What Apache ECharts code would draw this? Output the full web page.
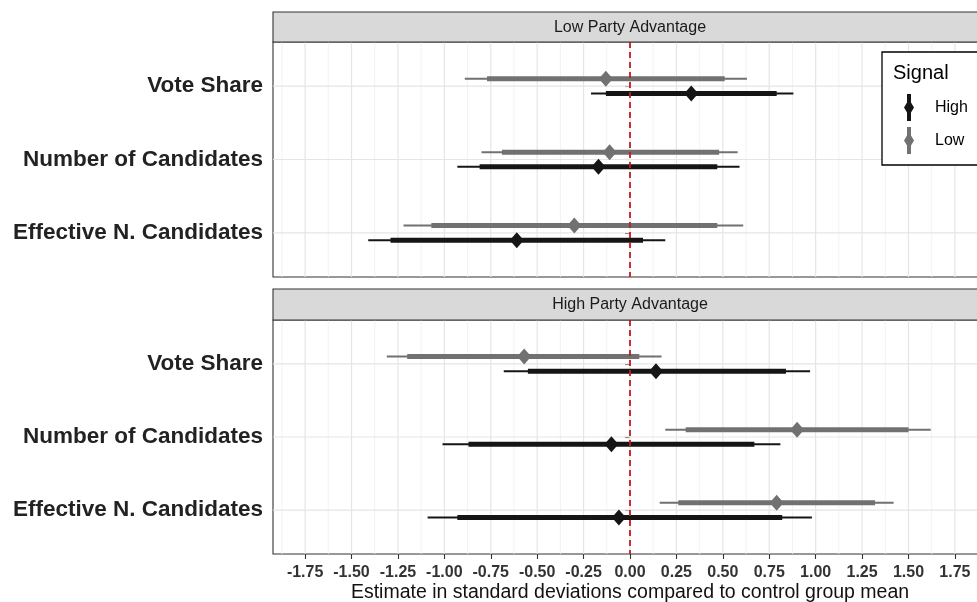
<!DOCTYPE html>
<html>
<head>
<meta charset="utf-8">
<script src="https://cdn.jsdelivr.net/npm/echarts@6/dist/echarts.min.js"></script>
<style>
html,body{margin:0;padding:0;background:#fff;}
#chart{width:977px;height:602px;}
</style>
</head>
<body>
<div id="chart"></div>
<script>
// ---------- data ----------
const categories = ['Vote Share', 'Number of Candidates', 'Effective N. Candidates'];
const panels = ['Low Party Advantage', 'High Party Advantage'];
const signals = ['High', 'Low'];
const xTicks = [-1.75, -1.5, -1.25, -1, -0.75, -0.5, -0.25, 0, 0.25, 0.5, 0.75, 1, 1.25, 1.5, 1.75];
const xMinorBreaks = [-1.875, -1.625, -1.375, -1.125, -0.875, -0.625, -0.375, -0.125, 0.125, 0.375, 0.625, 0.875, 1.125, 1.375, 1.625, 1.875];
const referenceValue = [0];

// each row per category: [estimate, thick low, thick high, thin low, thin high]
const lowAdvHigh = [
  [0.33, -0.13, 0.79, -0.21, 0.88],
  [-0.17, -0.81, 0.47, -0.93, 0.59],
  [-0.61, -1.29, 0.07, -1.41, 0.19]
];
const lowAdvLow = [
  [-0.13, -0.77, 0.51, -0.89, 0.63],
  [-0.11, -0.69, 0.48, -0.80, 0.58],
  [-0.30, -1.07, 0.47, -1.22, 0.61]
];
const highAdvHigh = [
  [0.14, -0.55, 0.84, -0.68, 0.97],
  [-0.10, -0.87, 0.67, -1.01, 0.81],
  [-0.06, -0.93, 0.82, -1.09, 0.98]
];
const highAdvLow = [
  [-0.57, -1.20, 0.05, -1.31, 0.17],
  [0.90, 0.30, 1.50, 0.19, 1.62],
  [0.79, 0.26, 1.32, 0.16, 1.42]
];

// ---------- styles / layout ----------
const FONT = "'Liberation Sans', Arial, Helvetica, sans-serif";
const colors = { High: '#151515', Low: '#717171' };
const dodge = { High: 0.1, Low: -0.1 };
const gridsLayout = [
  { left: 273, top: 42, width: 714, height: 235 },
  { left: 273, top: 320, width: 714, height: 234 }
];
const stripLayout = [
  { y: 12, h: 30 },
  { y: 289, h: 31 }
];
const X_MIN = -1.923, X_MAX = 1.923, Y_MIN = 0.4, Y_MAX = 3.6;

const panelData = [
  { High: lowAdvHigh, Low: lowAdvLow },
  { High: highAdvHigh, Low: highAdvLow }
];

const chart = echarts.init(document.getElementById('chart'), null, { renderer: 'canvas' });

const grids = gridsLayout.map(g => Object.assign({
  show: true, backgroundColor: '#fff', borderColor: '#333', borderWidth: 1.1,
  containLabel: false, outerBoundsMode: 'none'
}, g));

const xAxes = gridsLayout.map((g, i) => ({
  type: 'value', gridIndex: i, min: X_MIN, max: X_MAX,
  axisLine: { show: false },
  splitLine: { show: false },
  axisTick: { show: i === 1, length: 5, customValues: xTicks, lineStyle: { color: '#333', width: 1.1 } },
  axisLabel: {
    show: i === 1, customValues: xTicks, margin: 11,
    formatter: v => v.toFixed(2),
    fontFamily: FONT, fontSize: 16, fontWeight: 'bold', color: '#333'
  },
  name: i === 1 ? 'Estimate in standard deviations compared to control group mean' : '',
  nameLocation: 'middle', nameGap: 29,
  nameTextStyle: { fontFamily: FONT, fontSize: 19.5, color: '#111' }
}));

const catPos = categories.map((c, i) => i + 1);
const yAxes = gridsLayout.map((g, i) => ({
  type: 'value', gridIndex: i, min: Y_MIN, max: Y_MAX, inverse: true,
  axisLine: { show: false },
  splitLine: { show: false },
  axisTick: { show: true, length: 5, customValues: catPos, lineStyle: { color: '#333', width: 1.1 } },
  axisLabel: {
    customValues: catPos, margin: 10,
    formatter: v => categories[Math.round(v) - 1] || '',
    fontFamily: FONT, fontSize: 22.5, fontWeight: 'bold', color: '#222'
  }
}));

function vLineSeries(p, values, z, styleFn) {
  return {
    type: 'custom', xAxisIndex: p, yAxisIndex: p, z: z, silent: true,
    encode: { x: 0 }, data: values.map(v => [v]),
    renderItem: (params, api) => {
      const a = api.coord([api.value(0), Y_MIN]);
      const b = api.coord([api.value(0), Y_MAX]);
      return { type: 'line', shape: { x1: a[0], y1: a[1], x2: b[0], y2: b[1] }, style: styleFn() };
    }
  };
}
function hLineSeries(p, values, z, styleFn) {
  return {
    type: 'custom', xAxisIndex: p, yAxisIndex: p, z: z, silent: true,
    encode: { y: 0 }, data: values.map(v => [v]),
    renderItem: (params, api) => {
      const a = api.coord([X_MIN, api.value(0)]);
      const b = api.coord([X_MAX, api.value(0)]);
      return { type: 'line', shape: { x1: a[0], y1: a[1], x2: b[0], y2: b[1] }, style: styleFn() };
    }
  };
}

const series = [];
panelData.forEach((pd, p) => {
  series.push(vLineSeries(p, xMinorBreaks, 1, () => ({ stroke: '#efefef', lineWidth: 0.8 })));
  series.push(vLineSeries(p, xTicks, 1, () => ({ stroke: '#e5e5e5', lineWidth: 1.2 })));
  series.push(hLineSeries(p, catPos, 1, () => ({ stroke: '#e5e5e5', lineWidth: 1.2 })));
  signals.forEach(sig => {
    const rows = pd[sig].map((r, k) => [k + 1, r[0], r[1], r[2], r[3], r[4]]);
    const col = colors[sig];
    const dy = dodge[sig];
    series.push({
      type: 'custom', name: sig, xAxisIndex: p, yAxisIndex: p, z: 3,
      itemStyle: { color: col },
      encode: { x: [1, 2, 3, 4, 5], y: 0 },
      data: rows,
      renderItem: (params, api) => {
        const y = api.value(0) + dy;
        const c = api.coord([api.value(1), y]);
        const t1 = api.coord([api.value(2), y]);
        const t2 = api.coord([api.value(3), y]);
        const o1 = api.coord([api.value(4), y]);
        const o2 = api.coord([api.value(5), y]);
        return {
          type: 'group',
          children: [
            { type: 'line', shape: { x1: o1[0], y1: o1[1], x2: o2[0], y2: o2[1] }, style: { stroke: col, lineWidth: 2 } },
            { type: 'line', shape: { x1: t1[0], y1: t1[1], x2: t2[0], y2: t2[1] }, style: { stroke: col, lineWidth: 5 } },
            { type: 'polygon', shape: { points: [[c[0], c[1] - 8], [c[0] + 7, c[1]], [c[0], c[1] + 8], [c[0] - 7, c[1]]] }, style: { fill: col } }
          ]
        };
      }
    });
  });
  series.push(vLineSeries(p, referenceValue, 5, () => ({ stroke: '#c41a22', lineWidth: 1.8, lineDash: [6, 4] })));
});

const graphics = [];
panels.forEach((name, p) => {
  graphics.push({
    type: 'rect', z: 10,
    shape: { x: gridsLayout[p].left, y: stripLayout[p].y, width: gridsLayout[p].width, height: stripLayout[p].h },
    style: { fill: '#d9d9d9', stroke: '#333', lineWidth: 1.1 }
  });
  graphics.push({
    type: 'text', z: 11,
    x: gridsLayout[p].left + gridsLayout[p].width / 2,
    y: stripLayout[p].y + stripLayout[p].h / 2 + 0.5,
    style: { text: name, font: '16px ' + FONT, fill: '#1a1a1a', textAlign: 'center', textVerticalAlign: 'middle' }
  });
});
graphics.push({
  type: 'text', z: 20, x: 893, y: 73,
  style: { text: 'Signal', font: '20px ' + FONT, fill: '#000', textAlign: 'left', textVerticalAlign: 'middle' }
});

const iconPath = 'path://M3,0H7V8.5L10,13.5L7,18.5V27H3V18.5L0,13.5L3,8.5Z';

chart.setOption({
  animation: false,
  backgroundColor: '#fff',
  grid: grids,
  xAxis: xAxes,
  yAxis: yAxes,
  legend: {
    data: signals.map(s => ({ name: s, icon: iconPath, itemStyle: { color: colors[s] } })),
    orient: 'vertical', left: 882, top: 52,
    padding: [42, 50, 11, 22],
    itemWidth: 10, itemHeight: 27, itemGap: 6,
    borderColor: '#000', borderWidth: 1.3, backgroundColor: '#fff',
    textStyle: { fontFamily: FONT, fontSize: 16, color: '#000', padding: [0, 0, 0, 16] },
    selectedMode: false, z: 15
  },
  graphic: graphics,
  series: series
});
</script>
</body>
</html>
